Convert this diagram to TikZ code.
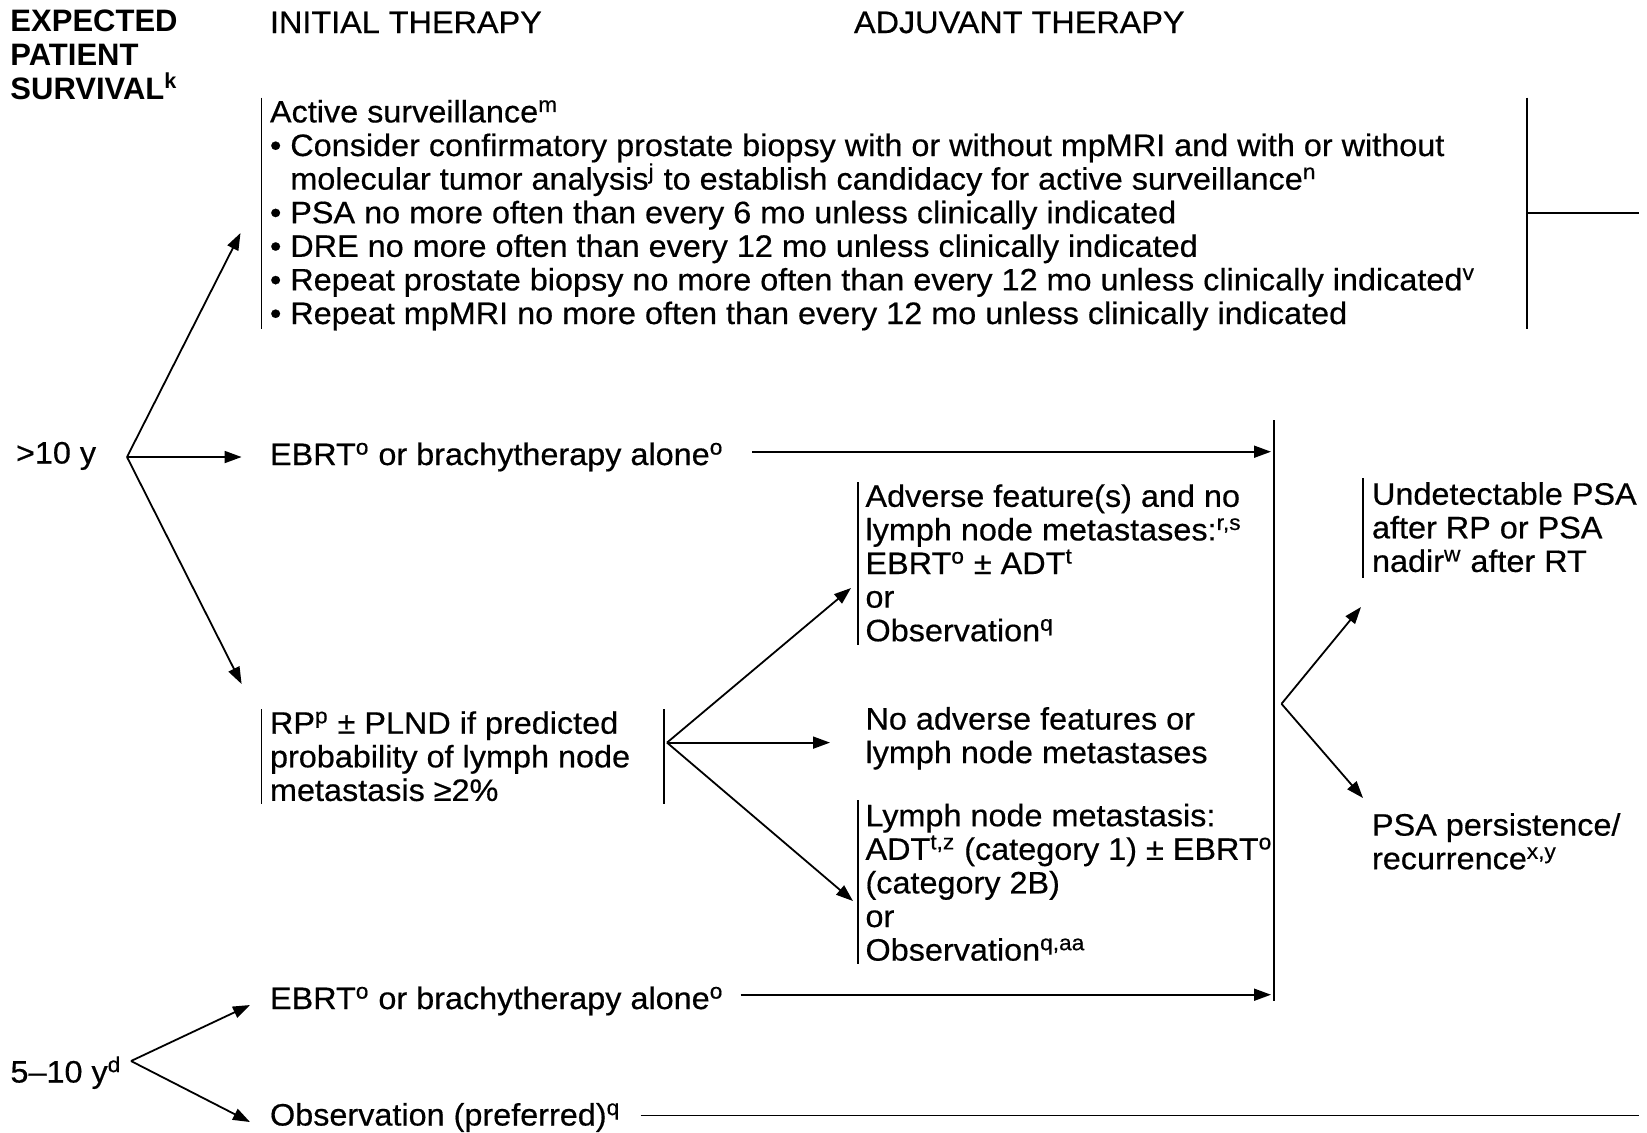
\documentclass[tikz,border=0pt]{standalone}
\usepackage{fontspec}
\setmainfont{Liberation Sans}[FakeStretch=1.045,FakeBold=0.5]
\newfontfamily\hdfont{Liberation Sans}
\usetikzlibrary{arrows.meta}

% superscript footnote letters
\newcommand\sps[1]{\textsuperscript{#1}}
% a block of lines with a fixed line pitch; its baseline is the first line's
\newcommand\blk[2][16.8pt]{\vtop{\baselineskip=#1\relax\lineskiplimit=-100pt\lineskip=0pt #2}}
\newcommand\hang{\phantom{• }}

\begin{document}
\begin{tikzpicture}[x=0.5pt,y=-0.5pt,
  txt/.style={inner sep=0pt,outer sep=0pt,anchor=base west,
    font=\fontsize{15.5pt}{16.8pt}\selectfont},
  head/.style={txt},
  bar/.style={line width=0.75pt},
  link/.style={line width=0.9pt},
  arr/.style={link,-{Triangle[length=8.5pt,width=6pt]}}]

\useasboundingbox (0,0) rectangle (1647,1132);

% column headings
\node[head,font=\hdfont\bfseries\fontsize{15.5pt}{17pt}\selectfont] (surv) at (10.5,31)
  {\blk[17pt]{\hbox{EXPECTED}\hbox{PATIENT}\hbox{SURVIVAL\sps{k}}}};
\node[head] (init) at (270,33) {INITIAL THERAPY};
\node[head] (adj) at (854,33) {ADJUVANT THERAPY};

% active surveillance
\node[txt] (as) at (270,122.4) {\blk{%
  \hbox{Active surveillance\sps{m}}%
  \hbox{• Consider confirmatory prostate biopsy with or without mpMRI and with or without}%
  \hbox{\hang molecular tumor analysis\sps{j} to establish candidacy for active surveillance\sps{n}}%
  \hbox{• PSA no more often than every 6 mo unless clinically indicated}%
  \hbox{• DRE no more often than every 12 mo unless clinically indicated}%
  \hbox{• Repeat prostate biopsy no more often than every 12 mo unless clinically indicated\sps{v}}%
  \hbox{• Repeat mpMRI no more often than every 12 mo unless clinically indicated}}};
\draw[bar] (261.5,97.7) -- (261.5,328.8);
\draw[bar] (1527,97.7) -- (1527,328.8);
\draw[bar] (1527,213) -- (1639,213);

% survival > 10 y
\node[txt] (gt10) at (16,463.5) {>10 y};
\coordinate (b10) at (127,457);
\coordinate (t1) at (240.5,233);
\coordinate (t2) at (241.6,457);
\coordinate (t3) at (241.6,684);
\draw[arr] (b10) -- (t1);
\draw[arr] (b10) -- (t2);
\draw[arr] (b10) -- (t3);

\node[txt] (ebrt1) at (270,465) {EBRT\sps{o} or brachytherapy alone\sps{o}};
\coordinate (e1s) at (752,451.7);
\coordinate (e1e) at (1271,451.7);
\draw[arr] (e1s) -- (e1e);

% collecting bar
\draw[bar] (1274,420) -- (1274,1001);

% radical prostatectomy
\node[txt] (rp) at (270,733.7) {\blk{%
  \hbox{RP\sps{p} ± PLND if predicted}%
  \hbox{probability of lymph node}%
  \hbox{metastasis ≥2\%}}};
\draw[bar] (261.5,709) -- (261.5,803.6);
\draw[bar] (664,709) -- (664,803.6);
\coordinate (brp) at (667,742.6);
\coordinate (r1) at (851,588);
\coordinate (r2) at (830,742.6);
\coordinate (r3) at (853,901);
\draw[arr] (brp) -- (r1);
\draw[arr] (brp) -- (r2);
\draw[arr] (brp) -- (r3);

\node[txt] (adv) at (865.5,506.8) {\blk{%
  \hbox{Adverse feature(s) and no}%
  \hbox{lymph node metastases:\sps{r,s}}%
  \hbox{EBRT\sps{o} ± ADT\sps{t}}%
  \hbox{or}%
  \hbox{Observation\sps{q}}}};
\draw[bar] (858,482) -- (858,645);

\node[txt] (noadv) at (865.5,729.5) {\blk{%
  \hbox{No adverse features or}%
  \hbox{lymph node metastases}}};

\node[txt] (lnm) at (865.5,826.2) {\blk{%
  \hbox{Lymph node metastasis:}%
  \hbox{ADT\sps{t,z} (category 1) ± EBRT\sps{o}}%
  \hbox{(category 2B)}%
  \hbox{or}%
  \hbox{Observation\sps{q,aa}}}};
\draw[bar] (858,800) -- (858,964);

% follow-up split
\coordinate (bf) at (1281.5,703.8);
\coordinate (u1) at (1361,607);
\coordinate (u2) at (1363,798);
\draw[arr] (bf) -- (u1);
\draw[arr] (bf) -- (u2);

\node[txt] (undet) at (1372,504.7) {\blk{%
  \hbox{Undetectable PSA}%
  \hbox{after RP or PSA}%
  \hbox{nadir\sps{w} after RT}}};
\draw[bar] (1363,478) -- (1363,578);

\node[txt] (pers) at (1372,835.6) {\blk{%
  \hbox{PSA persistence/}%
  \hbox{recurrence\sps{x,y}}}};

% survival 5-10 y
\node[txt] (ebrt2) at (270,1009) {EBRT\sps{o} or brachytherapy alone\sps{o}};
\coordinate (e2s) at (740.5,994.7);
\coordinate (e2e) at (1271,994.7);
\draw[arr] (e2s) -- (e2e);

\node[txt] (y510) at (10.5,1082.5) {5–10 y\sps{d}};
\coordinate (b5) at (131,1061);
\coordinate (f1) at (250,1005);
\coordinate (f2) at (250,1122);
\draw[arr] (b5) -- (f1);
\draw[arr] (b5) -- (f2);

\node[txt] (obs) at (270,1125.5) {Observation (preferred)\sps{q}};
\coordinate (os) at (640.7,1115.5);
\coordinate (oe) at (1639,1115.5);
\draw[link] (os) -- (oe);

\end{tikzpicture}
\end{document}
